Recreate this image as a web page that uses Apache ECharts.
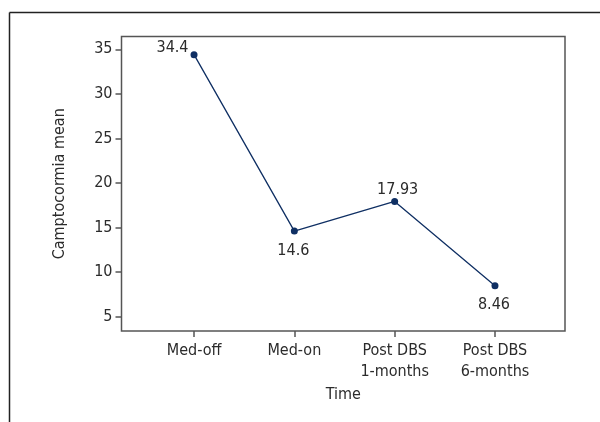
<!DOCTYPE html>
<html><head><meta charset="utf-8">
<script src="https://cdn.jsdelivr.net/npm/echarts@6/dist/echarts.min.js"></script>
<style>html,body{margin:0;padding:0;background:#fff}#c{width:600px;height:422px}</style>
</head><body><div id="c"></div>
<script>
var categories = ["Med-off", "Med-on", "Post DBS\n1-months", "Post DBS\n6-months"];
var values = [34.4, 14.6, 17.93, 8.46];
var valueLabels = ["34.4", "14.6", "17.93", "8.46"];
var labelPositions = ["left", "bottom", "top", "bottom"];
var yTicks = [5, 10, 15, 20, 25, 30, 35];
var xTicks = [0, 1, 2, 3];

var FONT = "'Liberation Sans Narrow', 'DejaVu Sans Condensed', sans-serif";
var FS = 16;
var TXT = '#2b2b2b';
var chart = echarts.init(document.getElementById('c'), null, {renderer: 'canvas'});
var data = values.map(function (v, i) {
  var pos = labelPositions[i];
  var lab = {position: pos, formatter: valueLabels[i]};
  if (pos === 'left') { lab.offset = [0, -7]; lab.distance = 2; }
  if (pos === 'bottom') { lab.distance = 8; lab.offset = [-1, 0]; }
  if (pos === 'top') { lab.distance = 0; lab.offset = [3, 0]; }
  return {value: [i, v], label: lab};
});
chart.setOption({
  animation: false,
  backgroundColor: '#fff',
  graphic: [
    {type: 'line', shape: {x1: 9.5, y1: 12.5, x2: 600, y2: 12.5}, style: {stroke: '#222', lineWidth: 1.5}},
    {type: 'line', shape: {x1: 9.5, y1: 12.5, x2: 9.5, y2: 422}, style: {stroke: '#222', lineWidth: 1.5}}
  ],
  grid: {left: 121.5, top: 36.5, right: 35, bottom: 91, show: true, borderColor: '#555', borderWidth: 1.5, containLabel: false},
  xAxis: {
    type: 'value', min: -0.723, max: 3.698,
    name: 'Time', nameLocation: 'middle', nameGap: 48,
    nameTextStyle: {fontFamily: FONT, fontSize: FS, color: TXT},
    axisLine: {show: false, onZero: false},
    splitLine: {show: false},
    axisTick: {show: true, inside: false, length: 6, lineStyle: {color: '#555', width: 1.5}, customValues: xTicks},
    axisLabel: {customValues: xTicks, margin: 9, fontFamily: FONT, fontSize: FS, color: TXT, lineHeight: 21,
      formatter: function (v) { return categories[Math.round(v)] || ''; }}
  },
  yAxis: {
    type: 'value', min: 3.39, max: 36.44,
    name: 'Camptocormia mean', nameLocation: 'middle', nameGap: 54, nameRotate: 90,
    nameTextStyle: {fontFamily: FONT, fontSize: FS, color: TXT},
    axisLine: {show: false, onZero: false},
    splitLine: {show: false},
    axisTick: {show: true, inside: false, length: 6, lineStyle: {color: '#555', width: 1.5}, customValues: yTicks},
    axisLabel: {customValues: yTicks, margin: 9, fontFamily: FONT, fontSize: FS, color: TXT}
  },
  series: [{
    type: 'line', data: data,
    symbol: 'circle', symbolSize: 7,
    lineStyle: {color: '#0f2f63', width: 1.3},
    itemStyle: {color: '#0f2f63'},
    label: {show: true, fontFamily: FONT, fontSize: FS, color: TXT}
  }]
});
</script></body></html>
